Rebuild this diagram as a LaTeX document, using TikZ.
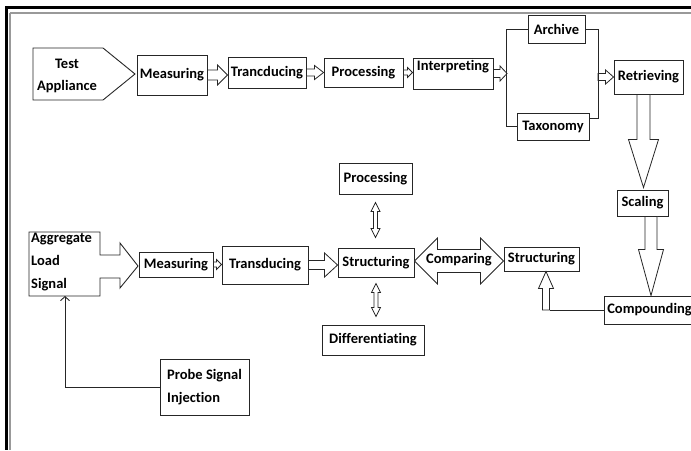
\documentclass[tikz,border=0pt]{standalone}
\usepackage{fontspec}
\setmainfont{Carlito}[Ligatures=NoCommon]
\usetikzlibrary{arrows.meta,calc}
\newcommand\lbl{\fontsize{14.5}{22}\selectfont\bfseries}
\tikzset{
  box/.style={draw=black!85, line width=0.9pt, inner sep=0pt, font=\lbl, align=center},
  lbltxt/.style={font=\lbl, inner sep=0pt},
  shapeline/.style={draw=black!85, line width=0.9pt},
  barrow/.style={draw=black!85, line width=0.8pt, fill=white},
  conn/.style={draw=black!85, line width=0.9pt},
}
% right-pointing block arrow: from, to, shaft half, head half, head length
\newcommand\mkR[5]{\draw[barrow] let \p1=(#1), \p2=(#2) in
  (\x1,\y1+#3) -- (\x2-#5,\y1+#3) -- (\x2-#5,\y1+#4) -- (\x2,\y1) -- (\x2-#5,\y1-#4) -- (\x2-#5,\y1-#3) -- (\x1,\y1-#3) -- cycle;}
% down-pointing block arrow
\newcommand\mkD[5]{\draw[barrow] let \p1=(#1), \p2=(#2) in
  (\x1-#3,\y1) -- (\x1-#3,\y2+#5) -- (\x1-#4,\y2+#5) -- (\x1,\y2) -- (\x1+#4,\y2+#5) -- (\x1+#3,\y2+#5) -- (\x1+#3,\y1) -- cycle;}
% up-pointing block arrow
\newcommand\mkU[5]{\draw[barrow] let \p1=(#1), \p2=(#2) in
  (\x1-#3,\y1) -- (\x1-#3,\y2-#5) -- (\x1-#4,\y2-#5) -- (\x1,\y2) -- (\x1+#4,\y2-#5) -- (\x1+#3,\y2-#5) -- (\x1+#3,\y1) -- cycle;}
% vertical double block arrow (top point, bottom point)
\newcommand\mkVV[5]{\draw[barrow] let \p1=(#1), \p2=(#2) in
  (\x1,\y1) -- (\x1+#4,\y1-#5) -- (\x1+#3,\y1-#5) -- (\x1+#3,\y2+#5) -- (\x1+#4,\y2+#5) -- (\x1,\y2) -- (\x1-#4,\y2+#5) -- (\x1-#3,\y2+#5) -- (\x1-#3,\y1-#5) -- (\x1-#4,\y1-#5) -- cycle;}
% horizontal double block arrow (left point, right point)
\newcommand\mkHH[5]{\draw[barrow] let \p1=(#1), \p2=(#2) in
  (\x1,\y1) -- (\x1+#5,\y1+#4) -- (\x1+#5,\y1+#3) -- (\x2-#5,\y1+#3) -- (\x2-#5,\y1+#4) -- (\x2,\y1) -- (\x2-#5,\y1-#4) -- (\x2-#5,\y1-#3) -- (\x1+#5,\y1-#3) -- (\x1+#5,\y1-#4) -- cycle;}
\begin{document}
\begin{tikzpicture}[x=1pt,y=-1pt]
\useasboundingbox (0,0) rectangle (691,450);
% frame
\fill[black] (4.5,5.5) rectangle (691,8.5);
\fill[black] (4.5,5.5) rectangle (8,450);
\draw[black!40, line width=1.2pt] (10,13) -- (691,13);
\draw[black!40, line width=1.2pt] (10,13) -- (10,450);

% Test Appliance shape
\draw[shapeline] (33,48) -- (103,48) -- (135,74) -- (103,100) -- (33,100) -- cycle;
\node[lbltxt, align=center] (ta) at (67,76) {Test\\Appliance};

% top row
\node[box, minimum width=70pt, minimum height=40pt] (meas1) at (172,75) {Measuring};
\node[box, minimum width=78pt, minimum height=31pt] (tranc) at (267,72.5) {Trancducing};
\node[box, minimum width=79pt, minimum height=29pt] (proc1) at (363.5,72.5) {Processing};
\node[box, minimum width=80pt, minimum height=31pt] (interp) at (453,73.5) {};
\node[lbltxt] (interptxt) at (453,67) {Interpreting};
\node[box, minimum width=57pt, minimum height=28pt] (archive) at (556.5,29) {Archive};
\node[box, minimum width=72pt, minimum height=27pt] (taxon) at (553,126.5) {Taxonomy};
\node[box, minimum width=69pt, minimum height=34pt] (retr) at (648.5,77) {Retrieving};
\node[box, minimum width=51pt, minimum height=26pt] (scal) at (642.5,203) {Scaling};
\node[box, minimum width=91pt, minimum height=28pt] (comp) at (649.5,310) {Compounding};

\coordinate (jl) at (507,76);
\coordinate (jr) at (598,77);
\coordinate (cb) at (546,310);

\mkR{meas1.east}{tranc.west}{5pt}{10pt}{10pt}
\mkR{tranc.east}{proc1.west}{3.5pt}{7pt}{9pt}
\mkR{proc1.east}{interp.west}{2.5pt}{5pt}{5pt}
\mkR{interp.east}{jl}{4pt}{7.5pt}{7pt}
\mkR{jr}{retr.west}{3.5pt}{7pt}{8pt}

\draw[conn] (archive.west) -- ++(-21,0) |- (taxon.west);
\draw[conn] (archive.east) -| ([xshift=9pt,yshift=8.5pt]taxon.east) -- ([yshift=8.5pt]taxon.east);

\mkD{[xshift=-5pt]retr.south}{[yshift=2pt]scal.north}{6.5pt}{15pt}{48pt}
\mkD{[xshift=8.5pt]scal.south}{comp.north}{6pt}{12.5pt}{46pt}

% middle/bottom row
\draw[shapeline] (29,232) -- (100,232) -- (100,255) -- (120,255) -- (120,243) -- (138,266) -- (120,288) -- (120,278) -- (100,278) -- (100,296) -- (29,296) -- cycle;
\node[lbltxt, align=left, anchor=west] (agg) at (31,262) {Aggregate\\[1pt]Load\\[1pt]Signal};
\coordinate (aggb) at (65,296);

\node[box, minimum width=74pt, minimum height=25pt] (meas2) at (176,264.5) {Measuring};
\node[box, minimum width=86pt, minimum height=38pt] (trans) at (265,265) {Transducing};
\node[box, minimum width=76pt, minimum height=29pt] (strC) at (376,262.5) {Structuring};
\node[box, minimum width=73pt, minimum height=31pt] (procC) at (375.5,178.5) {Processing};
\node[box, minimum width=102pt, minimum height=30pt] (diff) at (373,340) {Differentiating};
\node[box, minimum width=75pt, minimum height=24pt] (strR) at (541.5,259) {Structuring};
\node[box, align=left, minimum width=89pt, minimum height=56pt] (probe) at (204.5,387) {Probe Signal\\[1pt]Injection};

\mkR{meas2.east}{trans.west}{2.5pt}{5pt}{5pt}
\mkR{trans.east}{strC.west}{4.5pt}{12pt}{13pt}
\mkHH{[yshift=1.5pt]strC.east}{[yshift=1.5pt]strC.east -| strR.west}{11.5pt}{23pt}{23pt}
\node[lbltxt] (cmptxt) at (459,260) {Comparing};

\mkVV{[yshift=-8pt]procC.south}{[yshift=10pt]strC.north}{2pt}{4.5pt}{9pt}
\mkVV{[yshift=-6pt]strC.south}{[yshift=8pt]diff.north}{2pt}{4.5pt}{9pt}

\mkU{cb}{strR.south}{3.5pt}{7.5pt}{17pt}
\draw[conn] (comp.west) -- ([xshift=3.5pt]cb);

\draw[conn, -{Straight Barb[length=4pt,width=9pt]}] (probe.west) -| (aggb);
\end{tikzpicture}
\end{document}
